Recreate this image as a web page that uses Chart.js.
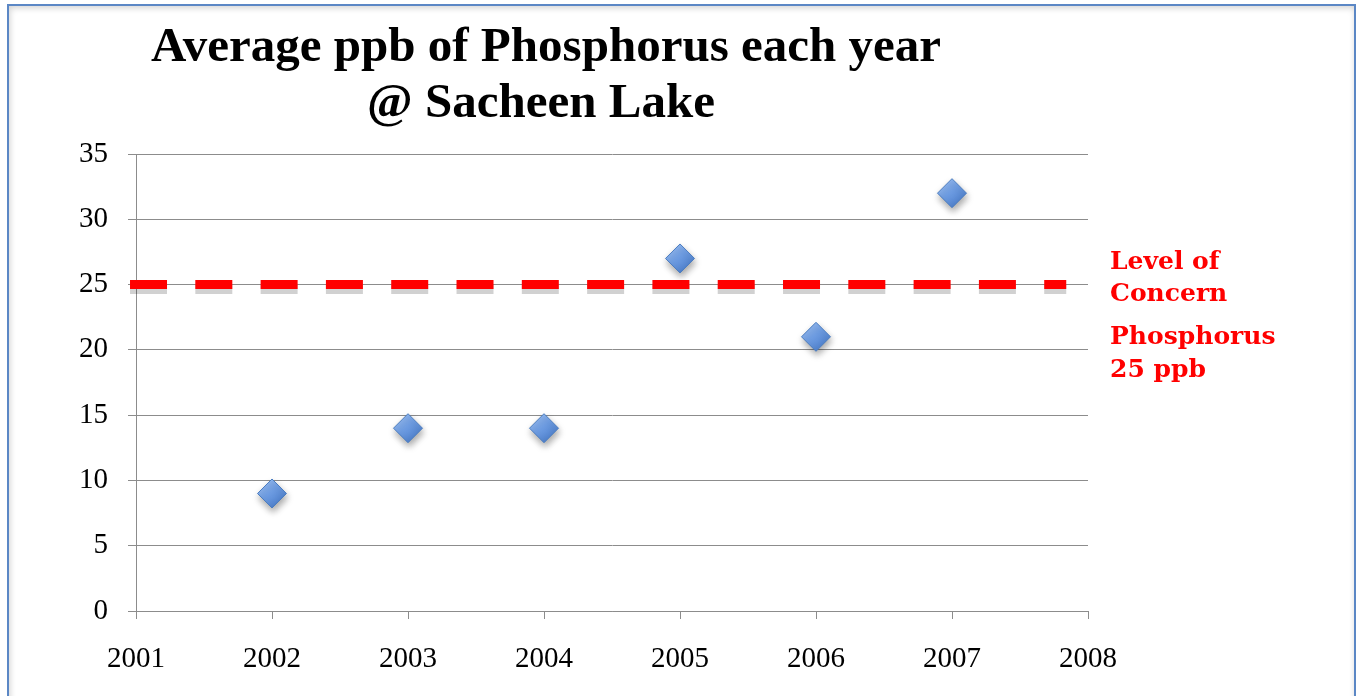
<!DOCTYPE html>
<html>
<head>
<meta charset="utf-8">
<script src="https://cdn.jsdelivr.net/npm/chart.js@4.4.1/dist/chart.umd.min.js"></script>
<style>
  html, body { margin: 0; padding: 0; background: #fff; overflow: hidden; }
  #frame {
    position: absolute; left: 7px; top: 4px; width: 1345px; height: 760px;
    border: 2px solid #5b87c5;
    box-shadow: inset 1px 2px 6px rgba(0, 0, 0, 0.18);
  }
  #myChart { position: absolute; left: 0; top: 0; }
</style>
</head>
<body>
<div id="frame"></div>
<canvas id="myChart" width="1356" height="696"></canvas>
<script>
// de metingen per jaar
var years = [2002, 2003, 2004, 2005, 2006, 2007];
var phosphorus = [9, 14, 14, 27, 21, 32];

// grenswaarde lijn (25 ppb), van links tot net voor 2008
var concernYears = [2000.956, 2007.84];
var concernLevel = [25, 25];

// as instellingen
var xMin = 2001, xMax = 2008;
var yMin = 0, yMax = 35, yStep = 5;

var titleLines = ['Average ppb of Phosphorus each year', '@ Sacheen Lake'];
var noteLines = ['Level of', 'Concern', 'Phosphorus', '25 ppb'];

var points = years.map(function (y, i) { return { x: y, y: phosphorus[i] }; });
var concern = concernYears.map(function (y, i) { return { x: y, y: concernLevel[i] }; });

var R = 14.5;

// lichtblauw naar donkerblauw per diamantje
function diamondFill(c) {
    var chart = c.chart;
    if (c.type !== 'data' || !chart.scales.x || !chart.scales.y) return '#6a98dc';
    var px = chart.scales.x.getPixelForValue(c.raw.x);
    var py = chart.scales.y.getPixelForValue(c.raw.y);
    if (!isFinite(px) || !isFinite(py)) return '#6a98dc';
    var g = chart.ctx.createLinearGradient(px - R, py - R, px + R * 0.6, py + R);
    g.addColorStop(0, '#a6c6f4');
    g.addColorStop(0.5, '#6f9ee4');
    g.addColorStop(1, '#4577c4');
    return g;
}

// schaduw onder lijn en punten
var shadowPlugin = {
    id: 'shadows',
    beforeDatasetDraw: function (chart, args) {
        var ctx = chart.ctx;
        ctx.save();
        if (args.index === 0) {
            ctx.shadowColor = 'rgba(0,0,0,0.35)';
            ctx.shadowBlur = 7;
            ctx.shadowOffsetX = 1;
            ctx.shadowOffsetY = 4;
        } else {
            ctx.shadowColor = 'rgba(0,0,0,0.18)';
            ctx.shadowBlur = 0;
            ctx.shadowOffsetY = 5;
        }
    },
    afterDatasetDraw: function (chart) {
        chart.ctx.restore();
    }
};

// titel en tekst rechts
var textPlugin = {
    id: 'texts',
    afterDraw: function (chart) {
        var ctx = chart.ctx;
        ctx.save();
        ctx.fillStyle = '#000';
        ctx.textAlign = 'center';
        ctx.textBaseline = 'alphabetic';
        ctx.font = 'bold 49px "Liberation Serif", serif';
        ctx.fillText(titleLines[0], 546, 61);
        ctx.fillText(titleLines[1], 541, 117);

        ctx.fillStyle = '#ff0000';
        ctx.textAlign = 'left';
        ctx.font = 'bold 25px "DejaVu Serif", serif';
        var base = [269, 301, 344, 377];
        for (var i = 0; i < noteLines.length; i++) {
            ctx.fillText(noteLines[i], 1110, base[i]);
        }
        ctx.restore();
    }
};

var ctx1 = document.getElementById('myChart');
var myChart = new Chart(ctx1, {
    type: 'scatter',
    data: {
        datasets: [{
            label: 'Phosphorus',
            data: points,
            pointStyle: 'rectRot',
            pointRadius: R,
            pointHoverRadius: R,
            backgroundColor: diamondFill,
            borderColor: '#4a7cc0',
            borderWidth: 1,
            order: 0
        }, {
            type: 'line',
            label: 'Level of Concern',
            data: concern,
            borderColor: '#ff0000',
            borderWidth: 9,
            borderDash: [37, 28.3],
            borderCapStyle: 'butt',
            pointRadius: 0,
            fill: false,
            clip: false,
            order: 1
        }]
    },
    options: {
        responsive: false,
        animation: false,
        events: [],
        layout: { padding: { left: 0, right: 268, top: 154, bottom: 0 } },
        plugins: {
            legend: { display: false },
            tooltip: { enabled: false },
            title: { display: false }
        },
        scales: {
            x: {
                type: 'linear',
                min: xMin,
                max: xMax,
                afterFit: function (s) { s.height = 85; },
                ticks: {
                    stepSize: 1,
                    padding: 23,
                    color: '#000',
                    font: { family: '"Liberation Serif", serif', size: 29 },
                    callback: function (v) { return String(v); }
                },
                grid: { drawOnChartArea: false, drawTicks: true, tickLength: 8, tickColor: '#8c8c8c' },
                border: { display: true, color: '#8c8c8c', width: 1 }
            },
            y: {
                min: yMin,
                max: yMax,
                afterFit: function (s) { s.width = 136; },
                ticks: {
                    stepSize: yStep,
                    padding: 20,
                    color: '#000',
                    font: { family: '"Liberation Serif", serif', size: 29 }
                },
                grid: { color: '#8c8c8c', lineWidth: 1, tickLength: 8, tickColor: '#8c8c8c' },
                border: { display: true, color: '#8c8c8c', width: 1 }
            }
        }
    },
    plugins: [shadowPlugin, textPlugin]
});
</script>
</body>
</html>
